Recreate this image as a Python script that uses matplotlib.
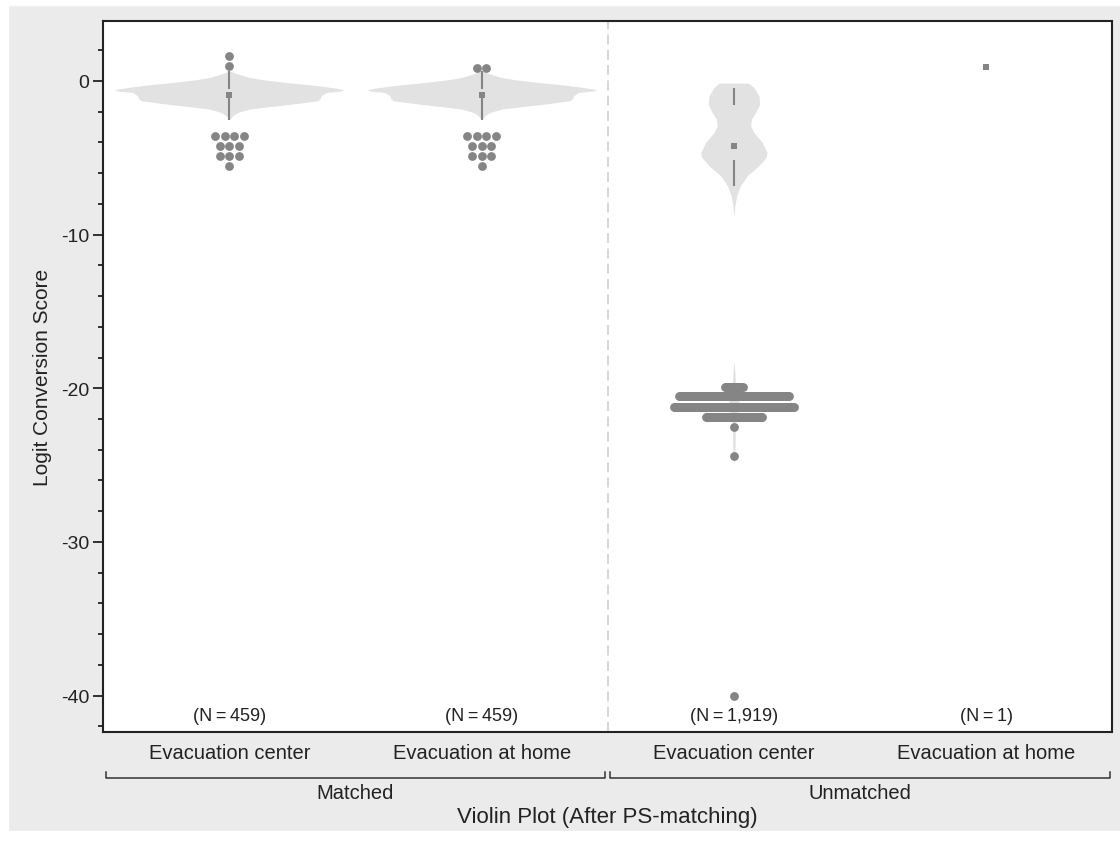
import matplotlib.pyplot as plt
import numpy as np
from matplotlib.patches import Rectangle

plt.rcParams['font.family'] = ['Liberation Sans', 'DejaVu Sans']
plt.rcParams['axes.unicode_minus'] = False

# categories
groups = ["Evacuation center", "Evacuation at home", "Evacuation center", "Evacuation at home"]
panels = ["Matched", "Unmatched"]
n_labels = ["(N\u2009=\u2009459)", "(N\u2009=\u2009459)", "(N\u2009=\u20091,919)", "(N\u2009=\u20091)"]

# violin outlines (score, half width)
match_y = [0.65, 0.44, 0.22, 0.07, -0.11, -0.28, -0.45, -0.58, -0.67, -0.76, -0.97, -1.15, -1.30, -1.52, -1.73, -1.84, -2.06, -2.27, -2.53]
match_w = [0.0, 0.033, 0.079, 0.132, 0.225, 0.33, 0.41, 0.456, 0.44, 0.384, 0.364, 0.36, 0.35, 0.246, 0.135, 0.079, 0.033, 0.013, 0.0]
unm_y = [-0.15, -0.43, -0.98, -1.52, -2.06, -2.49, -2.93, -3.36, -4.01, -4.66, -4.98, -5.52, -6.17, -6.82, -7.47, -8.12, -8.87]
unm_w = [0.058, 0.079, 0.099, 0.102, 0.086, 0.070, 0.066, 0.079, 0.112, 0.131, 0.128, 0.099, 0.053, 0.026, 0.011, 0.004, 0.0]
unm_low_y = [-18.2, -19.0, -19.9, -20.5, -21.2, -21.9, -22.5, -23.5, -24.4, -25.0]
unm_low_w = [0.0, 0.004, 0.007, 0.02, 0.02, 0.01, 0.006, 0.005, 0.004, 0.0]

violins = [[(match_y, match_w)], [(match_y, match_w)], [(unm_y, unm_w), (unm_low_y, unm_low_w)], []]

medians = [-0.91, -0.91, -4.27, 0.87]
whisk_hi = [(0.65, -0.55), (0.65, -0.55), (-0.50, -1.58), None]
whisk_lo = [(-1.10, -2.53), (-1.10, -2.53), (-5.14, -6.82), None]

out1 = [1.585, 0.935] + [-3.575] * 4 + [-4.225] * 3 + [-4.876] * 3 + [-5.526]
out2 = [0.80] * 2 + [-3.575] * 4 + [-4.225] * 3 + [-4.876] * 3 + [-5.526]
out3 = [-19.90] * 18 + [-20.53] * 110 + [-21.24] * 120 + [-21.89] * 56 + [-22.54, -24.39, -40.0]
out4 = []
outliers = [out1, out2, out3, out4]
swarm_step = [0.0377, 0.0377, 0.004, 0.0377]

dot_c = '#858585'
fill_c = '#e2e2e2'
txt_c = '#222222'


def swarm(vals, step):
    xs, ys = [], []
    uniq = []
    for v in vals:
        if v not in uniq:
            uniq.append(v)
    for v in uniq:
        n = vals.count(v)
        off = (np.arange(n) - (n - 1) / 2) * step
        xs.extend(off)
        ys.extend([v] * n)
    return np.array(xs), np.array(ys)


fig = plt.figure(figsize=(11.2, 8.45), dpi=100)
fig.patch.set_facecolor('#ebebeb')
# white border strips around the grey panel
fig.patches.append(Rectangle((0, 0), 8 / 1120, 1, transform=fig.transFigure, color='white', zorder=-1))
fig.patches.append(Rectangle((0, 1 - 6 / 845), 1, 6 / 845, transform=fig.transFigure, color='white', zorder=-1))
fig.patches.append(Rectangle((0, 0), 1, 13 / 845, transform=fig.transFigure, color='white', zorder=-1))

ax = fig.add_axes([103.3 / 1120, 1 - 733.3 / 845, 1009 / 1120, 711 / 845])
ax.set_facecolor('white')

pos = np.arange(1, len(groups) + 1)
for i, p in enumerate(pos):
    for yy, ww in violins[i]:
        yy = np.array(yy)
        ww = np.array(ww)
        ax.fill_betweenx(yy, p - ww, p + ww, color=fill_c, lw=0, zorder=1)
    for seg in (whisk_hi[i], whisk_lo[i]):
        if seg is not None:
            ax.plot([p, p], seg, color=dot_c, lw=1.5, solid_capstyle='butt', zorder=2)
    ax.scatter([p], [medians[i]], marker='s', s=22, color=dot_c, lw=0, zorder=3)
    ox, oy = swarm(outliers[i], swarm_step[i])
    if len(ox):
        ax.scatter(p + ox, oy, s=40, color=dot_c, lw=0, zorder=3)
    ax.text(p, -41.3, n_labels[i], ha='center', va='center', fontsize=13, color=txt_c)

ax.axvline(2.5, color='#cccccc', lw=1.1, ls=(0, (6.5, 3.5)), zorder=0)

ax.set_xlim(0.5, 4.5)
ax.set_ylim(-42.38, 3.87)
ax.set_yticks([0, -10, -20, -30, -40])
ax.set_yticks(np.arange(-42, 4, 2), minor=True)
ax.set_xticks(pos)
ax.set_xticklabels(groups, fontsize=14.5, color=txt_c)
ax.tick_params(axis='x', length=0, pad=8)
ax.tick_params(axis='y', which='major', length=7, width=1.3, labelsize=14, pad=3, colors=txt_c)
ax.tick_params(axis='y', which='minor', length=3.5, width=1.3, colors=txt_c)
for s in ax.spines.values():
    s.set_linewidth(1.5)
    s.set_color(txt_c)

ax.set_ylabel("Logit Conversion Score", fontsize=15, color=txt_c)
ax.yaxis.set_label_coords(-0.0508, 0.5)

# group brackets under the category labels
trans = ax.get_xaxis_transform()
by = -0.0645
for k, (a, b) in enumerate([(0.51, 2.49), (2.51, 4.49)]):
    ax.plot([a, a, b, b], [by + 0.009, by, by, by + 0.009], transform=trans, clip_on=False, color='#333333', lw=1.1)
    ax.text((a + b) / 2, -0.0845, panels[k], transform=trans, ha='center', va='center', fontsize=14.5, color=txt_c)

ax.text(0.5, -0.118, "Violin Plot (After PS-matching)", transform=ax.transAxes, ha='center', va='center', fontsize=16, color=txt_c)

fig.savefig('out.png', dpi=100, facecolor=fig.get_facecolor())
